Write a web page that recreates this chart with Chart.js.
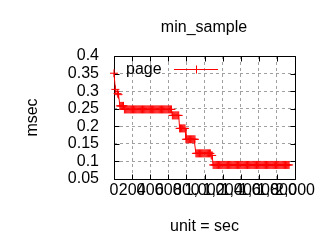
<!DOCTYPE html>
<html>
<head>
<meta charset="utf-8">
<script src="https://cdn.jsdelivr.net/npm/chart.js@4.4.1/dist/chart.umd.min.js"></script>
<style>
html, body { margin: 0; padding: 0; background: #fff; }
</style>
</head>
<body>
<canvas id="chart" width="320" height="240"></canvas>
<script>
const chartTitle = 'min_sample';
const seriesName = 'page';
const xTicks = [0, 200, 400, 600, 800, 1000, 1200, 1400, 1600, 1800, 2000];
const yTicks = [0.05, 0.1, 0.15, 0.2, 0.25, 0.3, 0.35, 0.4];

// sample time (sec)
const sampleTimes = [
	0, 15, 40, 50, 65, 75, 85, 95, 105,
	115, 125, 135, 145, 155, 165, 175, 185, 195, 205,
	215, 225, 235, 245, 255, 265, 275, 285, 295, 305,
	315, 325, 335, 345, 355, 365, 375, 385, 395, 405,
	415, 425, 435, 445, 455, 465, 475, 485, 495, 505,
	515, 525, 535, 545, 555, 565, 575, 585, 595, 605,
	615, 625, 635,
	645, 655, 665, 675, 685, 695, 705, 715,
	725, 735, 745, 755, 765, 775, 785,
	795, 805, 815, 825, 835, 845, 855, 865, 875, 885, 895,
	905, 915, 925, 935, 945, 955, 965, 975, 985, 995,
	1005, 1015, 1025, 1035, 1045, 1055, 1065,
	1075, 1085,
	1095, 1105, 1115, 1125, 1135, 1145, 1155, 1165, 1175, 1185,
	1195, 1205, 1215, 1225, 1235, 1245, 1255, 1265, 1275, 1285,
	1295, 1305, 1315, 1325, 1335, 1345, 1355, 1365, 1375, 1385,
	1395, 1405, 1415, 1425, 1435, 1445, 1455, 1465, 1475, 1485,
	1495, 1505, 1515, 1525, 1535, 1545, 1555, 1565, 1575, 1585,
	1595, 1605, 1615, 1625, 1635, 1645, 1655, 1665, 1675, 1685,
	1695, 1705, 1715, 1725, 1735, 1745, 1755, 1765, 1775, 1785,
	1795, 1805, 1815, 1825, 1835, 1845, 1855, 1865, 1875, 1885,
	1895, 1905, 1915, 1925, 1935
];

// min latency (msec)
const minMsec = [
	0.351, 0.305, 0.293, 0.29, 0.258, 0.258, 0.258, 0.258, 0.258,
	0.248, 0.248, 0.248, 0.248, 0.248, 0.248, 0.248, 0.248, 0.248, 0.248,
	0.248, 0.248, 0.248, 0.248, 0.248, 0.248, 0.248, 0.248, 0.248, 0.248,
	0.248, 0.248, 0.248, 0.248, 0.248, 0.248, 0.248, 0.248, 0.248, 0.248,
	0.248, 0.248, 0.248, 0.248, 0.248, 0.248, 0.248, 0.248, 0.248, 0.248,
	0.248, 0.248, 0.248, 0.248, 0.248, 0.248, 0.248, 0.248, 0.248, 0.248,
	0.248, 0.248, 0.248,
	0.231, 0.231, 0.231, 0.231, 0.231, 0.231, 0.231, 0.231,
	0.194, 0.194, 0.194, 0.194, 0.194, 0.194, 0.194,
	0.163, 0.163, 0.163, 0.163, 0.163, 0.163, 0.163, 0.163, 0.163, 0.163, 0.163,
	0.123, 0.123, 0.123, 0.123, 0.123, 0.123, 0.123, 0.123, 0.123, 0.123,
	0.123, 0.123, 0.123, 0.123, 0.123, 0.123, 0.123,
	0.117, 0.117,
	0.09, 0.09, 0.09, 0.09, 0.09, 0.09, 0.09, 0.09, 0.09, 0.09,
	0.09, 0.09, 0.09, 0.09, 0.09, 0.09, 0.09, 0.09, 0.09, 0.09,
	0.09, 0.09, 0.09, 0.09, 0.09, 0.09, 0.09, 0.09, 0.09, 0.09,
	0.09, 0.09, 0.09, 0.09, 0.09, 0.09, 0.09, 0.09, 0.09, 0.09,
	0.09, 0.09, 0.09, 0.09, 0.09, 0.09, 0.09, 0.09, 0.09, 0.09,
	0.09, 0.09, 0.09, 0.09, 0.09, 0.09, 0.09, 0.09, 0.09, 0.09,
	0.09, 0.09, 0.09, 0.09, 0.09, 0.09, 0.09, 0.09, 0.09, 0.09,
	0.09, 0.09, 0.09, 0.09, 0.09, 0.09, 0.09, 0.09, 0.09, 0.09,
	0.09, 0.09, 0.09, 0.09, 0.09
];

const FONT = 'Liberation Sans';
const FSIZE = 16;
const RED = '#ff0000';

// gnuplot style frame: border plus inward tics on all four sides
const framePlugin = {
	id: 'frame',
	beforeDatasetsDraw(chart) {
		const ctx = chart.ctx;
		const a = chart.chartArea;
		const x = chart.scales.x, y = chart.scales.y;
		const L = Math.round(a.left) + 0.5, R = Math.round(a.right) + 0.5;
		const T = Math.round(a.top) + 0.5, B = Math.round(a.bottom) + 0.5;
		ctx.save();
		ctx.strokeStyle = '#000';
		ctx.lineWidth = 1;
		ctx.beginPath();
		ctx.rect(L, T, R - L, B - T);
		xTicks.forEach(v => {
			const px = Math.round(x.getPixelForValue(v)) + 0.5;
			ctx.moveTo(px, B); ctx.lineTo(px, B - 5);
			ctx.moveTo(px, T); ctx.lineTo(px, T + 5);
		});
		yTicks.forEach(v => {
			const py = Math.round(y.getPixelForValue(v)) + 0.5;
			ctx.moveTo(L, py); ctx.lineTo(L + 5, py);
			ctx.moveTo(R, py); ctx.lineTo(R - 5, py);
		});
		ctx.stroke();
		ctx.restore();
	},
	afterDraw(chart) {
		const ctx = chart.ctx;
		ctx.save();
		ctx.fillStyle = '#000';
		ctx.font = FSIZE + 'px "' + FONT + '"';
		ctx.textBaseline = 'alphabetic';
		ctx.textAlign = 'center';
		ctx.fillText(chartTitle, 204, 32);
		// key
		ctx.textAlign = 'left';
		ctx.fillText(seriesName, 126, 74);
		ctx.strokeStyle = RED;
		ctx.lineWidth = 1;
		ctx.beginPath();
		ctx.moveTo(174, 69.5); ctx.lineTo(218, 69.5);
		ctx.moveTo(196.5, 65.5); ctx.lineTo(196.5, 73.5);
		ctx.stroke();
		ctx.restore();
	}
};

const tickFont = { family: FONT, size: FSIZE };

new Chart(document.getElementById('chart'), {
	type: 'line',
	data: {
		datasets: [{
			label: seriesName,
			data: sampleTimes.map((t, i) => ({ x: t, y: minMsec[i] })),
			borderColor: RED,
			backgroundColor: RED,
			borderWidth: 1,
			pointStyle: 'cross',
			pointRadius: 4,
			pointBorderWidth: 1,
			pointBorderColor: RED,
			fill: false,
			tension: 0,
			clip: false
		}]
	},
	options: {
		responsive: false,
		animation: false,
		events: [],
		layout: { padding: { left: 0, top: 56, right: 25, bottom: 0 } },
		plugins: {
			legend: { display: false },
			title: { display: false },
			tooltip: { enabled: false }
		},
		scales: {
			x: {
				type: 'linear',
				min: 0,
				max: 2000,
				afterFit: s => { s.height = 61; },
				afterBuildTicks: s => { s.ticks = xTicks.map(v => ({ value: v })); },
				grid: { color: '#a0a0a0', drawTicks: false },
				border: { display: false, dash: [3, 3] },
				ticks: {
					autoSkip: false,
					maxRotation: 0,
					minRotation: 0,
					padding: 2,
					color: '#000',
					font: tickFont
				},
				title: {
					display: true,
					text: 'unit = sec',
					color: '#000',
					font: tickFont,
					padding: { top: 0, bottom: 4 }
				}
			},
			y: {
				min: 0.05,
				max: 0.4,
				afterFit: s => { s.width = 114; },
				afterBuildTicks: s => { s.ticks = yTicks.map(v => ({ value: v })); },
				grid: { color: '#a0a0a0', drawTicks: false },
				border: { display: false, dash: [3, 3] },
				ticks: {
					autoSkip: false,
					padding: 15,
					color: '#000',
					font: tickFont,
					callback: v => String(+v.toFixed(2))
				},
				title: {
					display: true,
					text: 'msec',
					color: '#000',
					font: tickFont,
					padding: { top: 23, bottom: 0 }
				}
			}
		}
	},
	plugins: [framePlugin]
});
</script>
</body>
</html>
